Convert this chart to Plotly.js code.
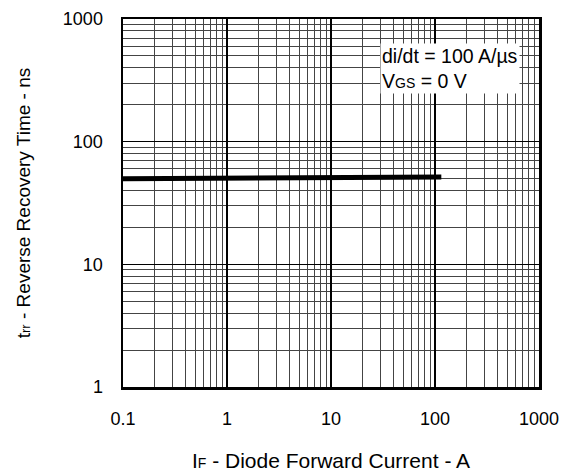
<!DOCTYPE html>
<html>
<head>
<meta charset="utf-8">
<script src="https://cdn.plot.ly/plotly-3.0.1.min.js"></script>
<style>html,body{margin:0;padding:0;background:#fff;}#chart{width:570px;height:472px;}</style>
</head>
<body>
<div id="chart"></div>
<script>
// Data
const currentA = [0.1, 0.3, 1, 3, 10, 30, 115];
const trrNs = [49.8, 49.9, 50.1, 50.4, 50.8, 51.2, 51.6];
const xTicks = [0.1, 1, 10, 100, 1000];
const xTickText = ['0.1', '1', '10', '100', '1000'];
const yTicks = [1, 10, 100, 1000];
const yTickText = ['1', '10', '100', '1000'];

const FONT = 'Liberation Sans, Arial, sans-serif';

const trace = {
  x: currentA,
  y: trrNs,
  type: 'scatter',
  mode: 'lines',
  line: {color: '#000', width: 5},
  hoverinfo: 'skip'
};

const axisCommon = {
  type: 'log',
  showline: true,
  linecolor: '#000',
  linewidth: 2.5,
  mirror: true,
  showgrid: true,
  gridcolor: '#000',
  gridwidth: 1.2,
  zeroline: false,
  ticks: '',
  tickmode: 'array',
  tickfont: {family: FONT, size: 18, color: '#000'},
  minor: {showgrid: true, gridcolor: '#444', gridwidth: 1, ticks: '', dtick: 'D1'}
};

const layout = {
  width: 570,
  height: 472,
  margin: {l: 123, r: 31, t: 19, b: 85},
  paper_bgcolor: '#fff',
  plot_bgcolor: '#fff',
  showlegend: false,
  xaxis: Object.assign({}, axisCommon, {
    range: [-1, 3],
    tickvals: xTicks,
    ticktext: xTickText,
    ticklabelstandoff: 14,
    title: {
      text: 'I<span style="font-size:14px">F</span> - Diode Forward Current - A',
      font: {family: FONT, size: 21, color: '#000'},
      standoff: 26
    }
  }),
  yaxis: Object.assign({}, axisCommon, {
    range: [0, 3],
    tickvals: yTicks,
    ticktext: yTickText,
    ticklabelstandoff: 14,
    title: {
      text: 't<span style="font-size:13px">rr</span> - Reverse Recovery Time - ns',
      font: {family: FONT, size: 19, color: '#000'},
      standoff: 27
    }
  }),
  annotations: [{
    xref: 'paper', yref: 'paper',
    x: 0.617, y: 0.935,
    xanchor: 'left', yanchor: 'top',
    align: 'left',
    showarrow: false,
    bgcolor: '#fff',
    borderpad: 1,
    text: 'di/dt = 100 A/µs<br>V<span style="font-size:14px">GS</span> = 0 V',
    font: {family: FONT, size: 19.5, color: '#000'}
  }]
};

Plotly.newPlot('chart', [trace], layout, {staticPlot: true, displayModeBar: false});
</script>
</body>
</html>
